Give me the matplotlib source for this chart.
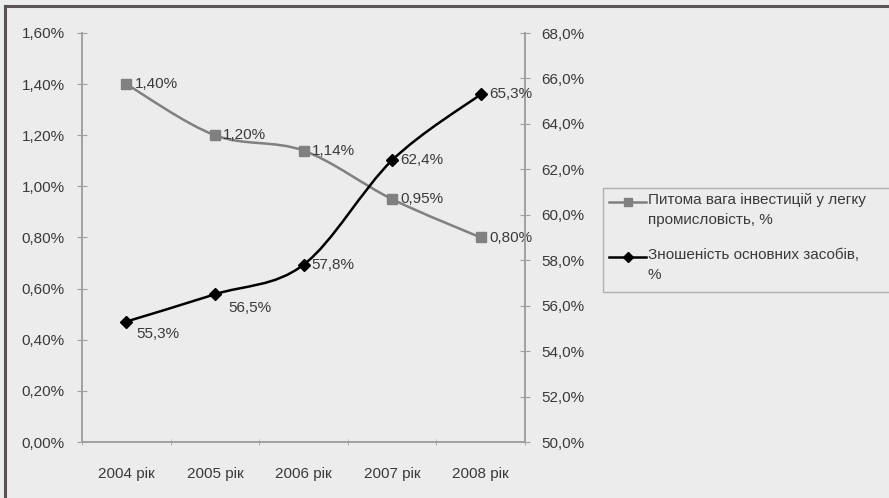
import numpy as np
import matplotlib
matplotlib.use("Agg")
import matplotlib.pyplot as plt
from matplotlib.path import Path
from matplotlib.patches import PathPatch, Rectangle
from matplotlib.lines import Line2D

years = ["2004 рік", "2005 рік", "2006 рік", "2007 рік", "2008 рік"]
invest_share = [1.40, 1.20, 1.14, 0.95, 0.80]      # %, left axis
wear = [55.3, 56.5, 57.8, 62.4, 65.3]              # %, right axis
invest_labels = ["1,40%", "1,20%", "1,14%", "0,95%", "0,80%"]
wear_labels = ["55,3%", "56,5%", "57,8%", "62,4%", "65,3%"]
left_ticks = [0, 0.2, 0.4, 0.6, 0.8, 1.0, 1.2, 1.4, 1.6]
right_ticks = [50, 52, 54, 56, 58, 60, 62, 64, 66, 68]
legend_names = ["Питома вага інвестицій у легку\nпромисловість, %",
                "Зношеність основних засобів,\n%"]

plt.rcParams['font.family'] = ['Liberation Sans', 'DejaVu Sans']
plt.rcParams['font.size'] = 11
txt = '#3a3a3a'
bg = '#ececec'
gray = '#808080'
axc = '#a0a0a0'


def smooth_path(xs, ys):
    # Excel-like smoothed line: cubic bezier through the points
    p = np.column_stack([xs, ys]).astype(float)
    n = len(p)
    verts = [p[0]]
    codes = [Path.MOVETO]
    for i in range(n - 1):
        p0 = p[i - 1] if i > 0 else p[i]
        p3 = p[i + 2] if i + 2 < n else p[i + 1]
        c1 = p[i] + (p[i + 1] - p0) / 6
        c2 = p[i + 1] - (p3 - p[i]) / 6
        verts += [c1, c2, p[i + 1]]
        codes += [Path.CURVE4] * 3
    return Path(verts, codes)


fig = plt.figure(figsize=(8.89, 4.98), dpi=100, facecolor=bg)
ax = fig.add_axes([82 / 889, 1 - 442 / 498, 443 / 889, 409 / 498])
ax.set_facecolor('none')
ax2 = ax.twinx()

x = np.arange(len(years))

ax.add_patch(PathPatch(smooth_path(x, invest_share), fill=False, edgecolor=gray, lw=1.8, zorder=3))
ax.plot(x, invest_share, ls='none', marker='s', ms=7, color=gray, zorder=4)
ax2.add_patch(PathPatch(smooth_path(x, wear), fill=False, edgecolor='black', lw=1.8, zorder=3))
ax2.plot(x, wear, ls='none', marker='D', ms=6, color='black', zorder=4)

for xi, yi, s in zip(x, invest_share, invest_labels):
    ax.annotate(s, (xi, yi), xytext=(6, 0), textcoords='offset points',
                ha='left', va='center', color=txt)
wear_off = [(7, -9), (10, -10), (6, 0), (6, 0), (6, 0)]
for xi, yi, s, off in zip(x, wear, wear_labels, wear_off):
    ax2.annotate(s, (xi, yi), xytext=off, textcoords='offset points',
                 ha='left', va='center', color=txt)

ax.set_xlim(-0.5, len(years) - 0.5)
ax.set_ylim(0, 1.6)
ax2.set_ylim(50, 68)
ax.set_yticks(left_ticks)
ax.set_yticklabels([f"{v:.2f}%".replace('.', ',') for v in left_ticks])
ax2.set_yticks(right_ticks)
ax2.set_yticklabels([f"{v:.1f}%".replace('.', ',') for v in right_ticks])

ax.set_xticks(x)
ax.set_xticklabels(years)
ax.set_xticks(np.arange(-0.5, len(years), 1), minor=True)
ax.tick_params(axis='x', which='major', length=0, pad=18, colors=txt)
ax.tick_params(axis='x', which='minor', length=5, direction='inout', color=axc)
ax.tick_params(axis='y', direction='inout', length=7, pad=9, color=axc, labelcolor=txt)
ax2.tick_params(axis='y', direction='inout', length=7, pad=8, color=axc, labelcolor=txt)

for a in (ax, ax2):
    a.spines['top'].set_visible(False)
    for s in ('left', 'right', 'bottom'):
        a.spines[s].set_color(axc)
        a.spines[s].set_linewidth(1.2)

# legend, drawn in figure pixels so the marker sits on the first text line
W, H = 889, 498
def fx(px):
    return px / W
def fy(py):
    return 1 - py / H

fig.patches.append(Rectangle((fx(603), fy(292)), fx(400), (292 - 188) / H,
                             transform=fig.transFigure, facecolor='none',
                             edgecolor='#b0b0b0', lw=1.0))
leg_y = [202, 257]
styles = [dict(color=gray, marker='s', ms=6), dict(color='black', marker='D', ms=5)]
for ly, name, st in zip(leg_y, legend_names, styles):
    fig.lines.append(Line2D([fx(609), fx(646)], [fy(ly), fy(ly)], lw=1.8,
                            color=st['color'], transform=fig.transFigure))
    fig.lines.append(Line2D([fx(627.5)], [fy(ly)], ls='none', marker=st['marker'],
                            ms=st['ms'], color=st['color'], transform=fig.transFigure))
    fig.text(fx(648), fy(ly - 9), name, ha='left', va='top', color=txt,
             linespacing=1.55, transform=fig.transFigure)

# outer frame (top and left edges visible in the scan)
fig.lines.append(Line2D([fx(5), fx(889)], [fy(6), fy(6)], lw=2.2, color='#5a5458',
                        transform=fig.transFigure))
fig.lines.append(Line2D([fx(5), fx(5)], [fy(6), fy(498)], lw=2.2, color='#5a5458',
                        transform=fig.transFigure))

fig.savefig("out.png", dpi=100, facecolor=bg)
